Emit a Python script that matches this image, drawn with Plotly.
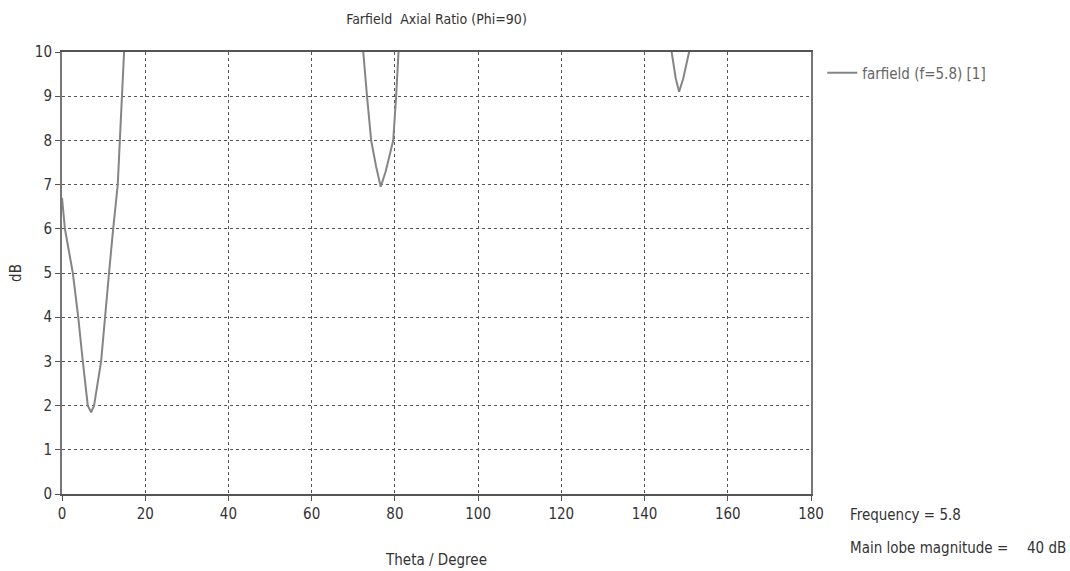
import plotly.graph_objects as go

# Theta (deg) and axial ratio (dB); values above 10 are clipped by the axis
theta = [0, 0.7, 2.6, 3.9, 5.0, 6.2, 7.0, 7.7, 9.4, 10.3, 11.3, 12.3, 13.4, 13.9, 14.4, 14.9, 16, 20,
         40, 60, 70, 72.4, 73.3, 74.3, 75.5, 76.6, 77.8, 79.6, 80.3, 81.0, 82, 90,
         110, 130, 145, 146.6, 147.5, 148.3, 149.3, 150.7, 152, 160, 170, 180]
ar = [6.7, 6.0, 5.0, 4.0, 3.0, 2.0, 1.85, 2.0, 3.0, 4.0, 5.0, 6.0, 7.0, 8.0, 9.0, 10.0, 12, 20,
      30, 25, 15, 10.0, 9.0, 8.0, 7.4, 6.95, 7.3, 8.0, 9.0, 10.0, 12, 20,
      25, 20, 11, 10.0, 9.4, 9.1, 9.4, 10.0, 11, 20, 25, 30]

x_ticks = [0, 20, 40, 60, 80, 100, 120, 140, 160, 180]
y_ticks = [0, 1, 2, 3, 4, 5, 6, 7, 8, 9, 10]

FONT = "DejaVu Sans Condensed, sans-serif"
TXT = "#333333"

fig = go.Figure()
fig.add_trace(go.Scatter(x=theta, y=ar, mode="lines", name="farfield (f=5.8) [1]",
                         line=dict(color="#858585", width=2)))

fig.update_layout(
    width=1070, height=571,
    margin=dict(l=62, r=259, t=52, b=77),
    paper_bgcolor="white", plot_bgcolor="white",
    font=dict(family=FONT, size=15, color=TXT),
    title=dict(text="Farfield  Axial Ratio (Phi=90)", x=(62 + 811) / 2 / 1070, xanchor="center",
               y=1 - 19 / 571, yanchor="middle", font=dict(size=14, color=TXT)),
    showlegend=True,
    legend=dict(x=1.015, y=0.99, xanchor="left", yanchor="top", bgcolor="rgba(0,0,0,0)",
                font=dict(size=15, color="#666666")),
)
fig.update_xaxes(range=[0, 180], tickvals=x_ticks, ticks="outside", ticklen=5, tickcolor="#555",
                 showline=True, linecolor="#555", linewidth=2, mirror=True, automargin=False,
                 showgrid=True, gridcolor="#555", griddash="dot", gridwidth=1,
                 zeroline=False, title=dict(text="Theta / Degree", standoff=32, font=dict(size=15)),
                 tickfont=dict(size=15))
fig.update_yaxes(range=[0, 10], tickvals=y_ticks, ticks="outside", ticklen=5, tickcolor="#555",
                 showline=True, linecolor="#777", linewidth=2, mirror=True, automargin=False,
                 showgrid=True, gridcolor="#555", griddash="dot", gridwidth=1,
                 zeroline=False, title=dict(text="dB", standoff=10, font=dict(size=15)),
                 tickfont=dict(size=15))

fig.add_annotation(text="Frequency = 5.8", xref="paper", yref="paper", x=(848 - 62) / 749, y=0,
                   xanchor="left", yanchor="middle", showarrow=False, font=dict(size=15, color=TXT),
                   yshift=-21)
fig.add_annotation(text="Main lobe magnitude =", xref="paper", yref="paper", x=(848 - 62) / 749, y=0,
                   xanchor="left", yanchor="middle", showarrow=False, font=dict(size=15, color=TXT),
                   yshift=-54)
fig.add_annotation(text="40 dB", xref="paper", yref="paper", x=(1068 - 62) / 749, y=0,
                   xanchor="right", yanchor="middle", showarrow=False, font=dict(size=15, color=TXT),
                   yshift=-54)

fig.write_html("out.html")
